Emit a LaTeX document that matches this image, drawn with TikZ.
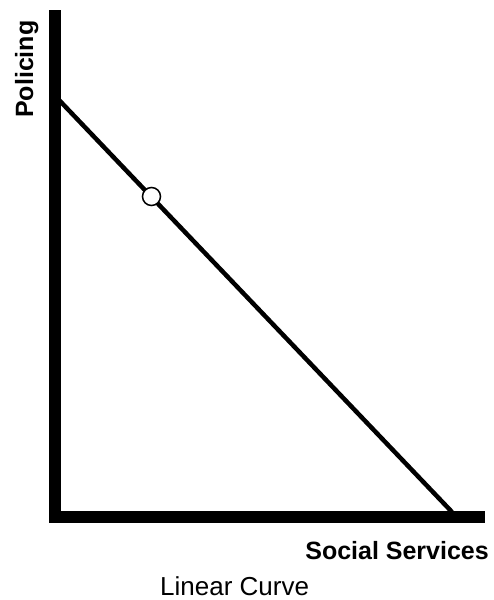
\documentclass[tikz,border=0pt]{standalone}
\usepackage{fontspec}
\setmainfont{Liberation Sans}
\begin{document}
\begin{tikzpicture}[x=1pt,y=-1pt,
  axis/.style={line width=12pt},
  curve/.style={line width=4.5pt},
  pt/.style={circle,draw,fill=white,line width=1.5pt,minimum size=18pt,inner sep=0pt},
  lbl/.style={font=\fontsize{25}{28}\selectfont\bfseries,inner sep=0pt}]
\useasboundingbox (0,0) rectangle (494,600);
\coordinate (top) at (55,10);
\coordinate (origin) at (55,516.5);
\coordinate (right) at (485,516.5);
\coordinate (ystart) at (59,100);
\coordinate (xend) at (452,512);
\draw[axis] (top) -- (55,522.5) ;
\draw[axis] (49,516.5) -- (right);
\draw[curve] (ystart) -- (xend);
\node[pt] (p) at (151.5,196.5) {};
\node[lbl,rotate=90,anchor=base west] (ylab) at (33,118) {Policing};
\node[lbl,anchor=base east] (xlab) at (489,559) {Social Services};
\node[font=\fontsize{26}{30}\selectfont,inner sep=0pt,anchor=base west] (cap) at (160,595) {Linear Curve};
\end{tikzpicture}
\end{document}
